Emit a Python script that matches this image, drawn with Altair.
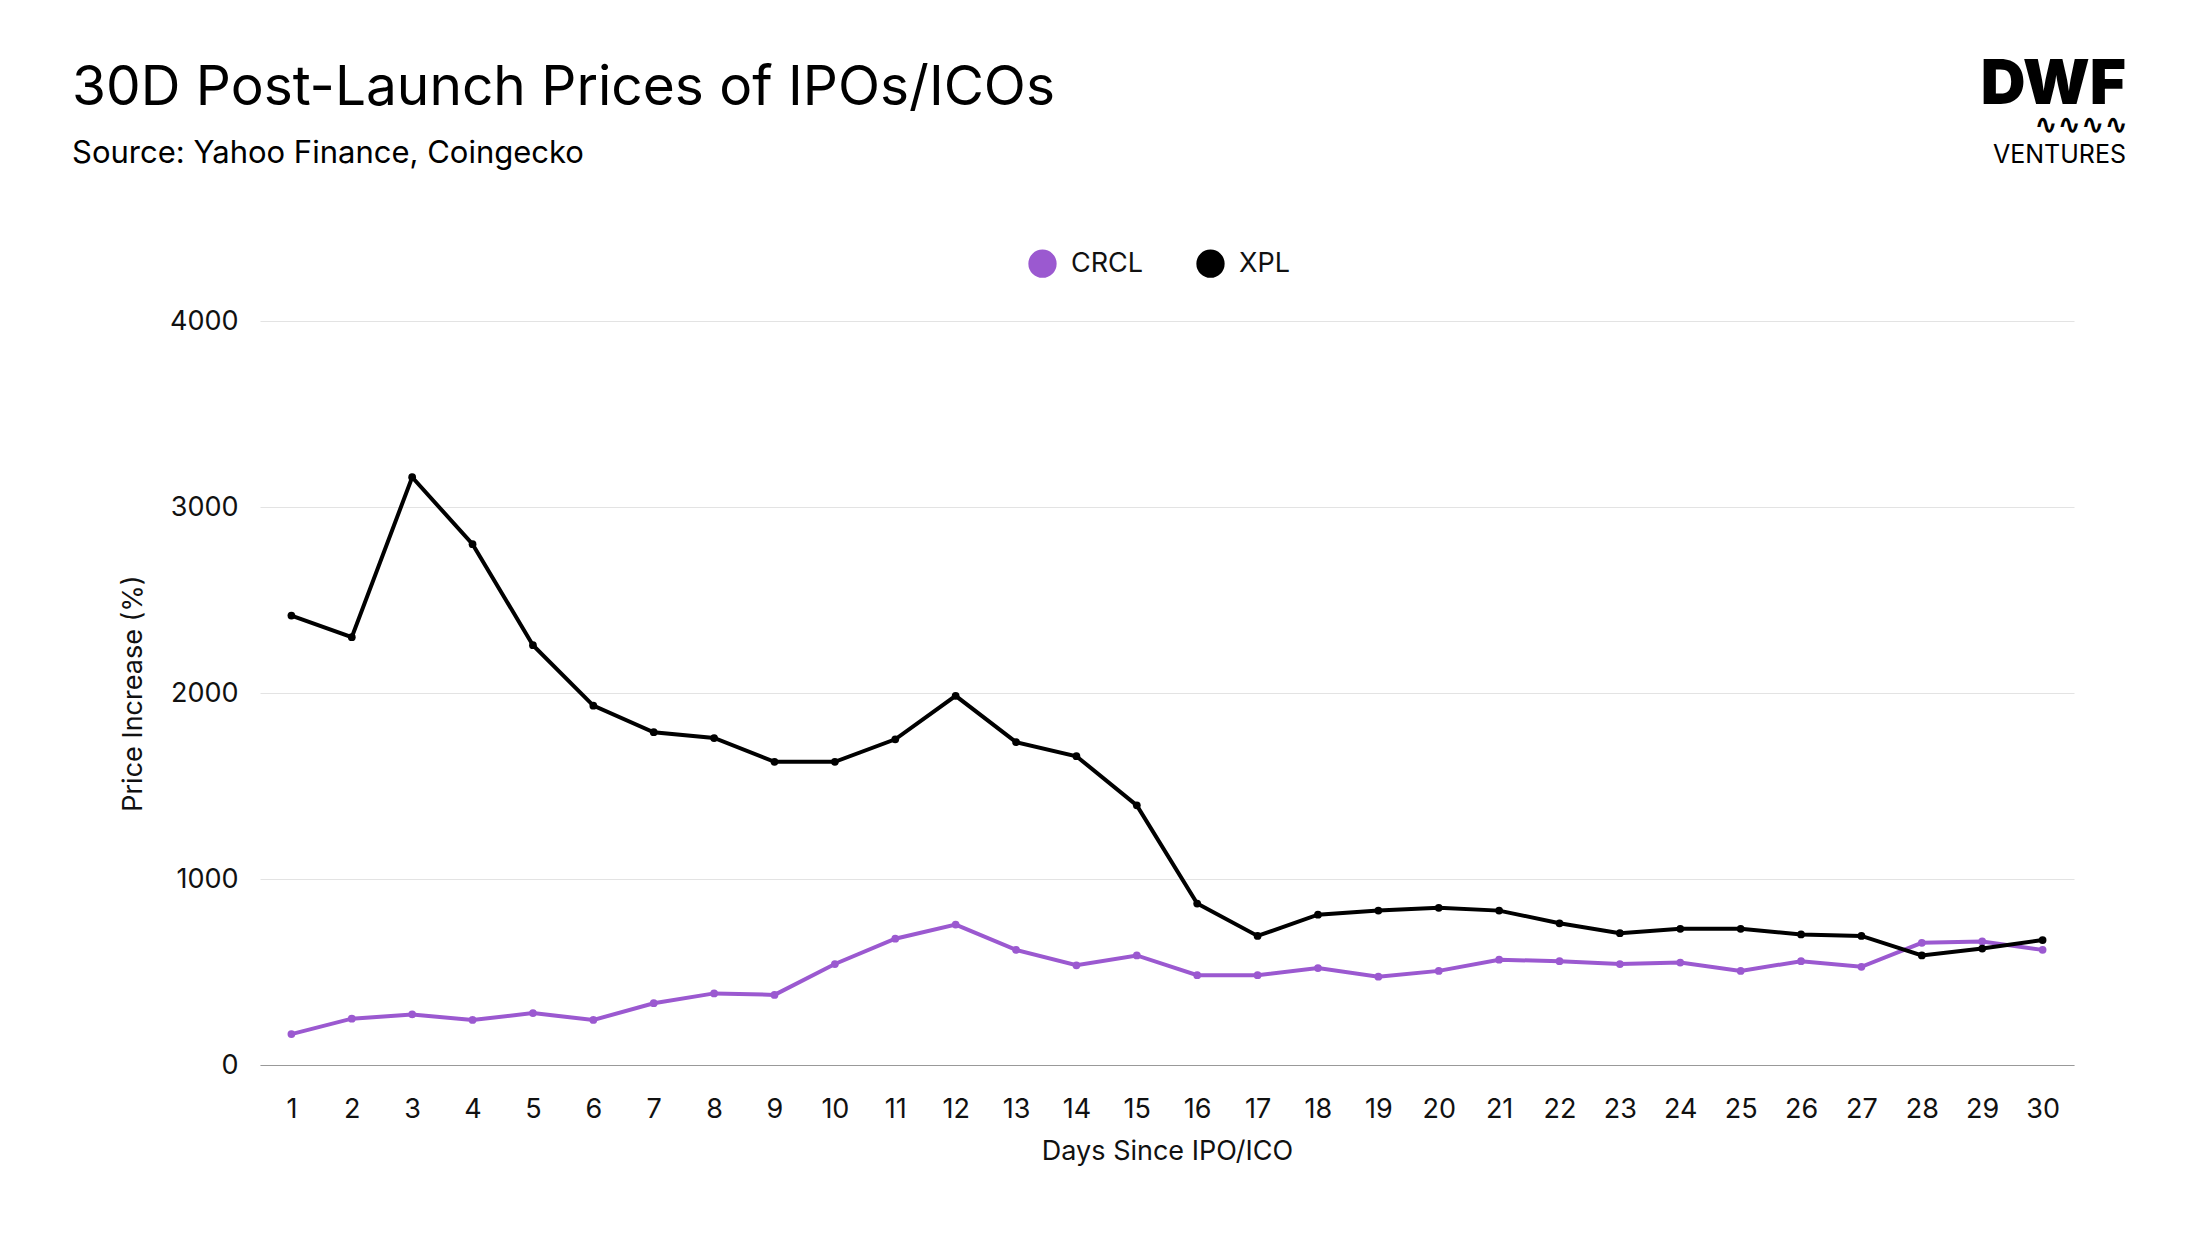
import altair as alt
import pandas as pd

days = list(range(1, 31))
crcl = [166, 249, 272, 242, 279, 242, 332, 385, 377, 543, 679, 755, 619, 536, 589,
        483, 483, 521, 475, 506, 566, 558, 543, 551, 506, 558, 528, 657, 664, 619]
xpl = [2416, 2300, 3160, 2800, 2257, 1932, 1789, 1758, 1630, 1630, 1751, 1985, 1736, 1660, 1396,
       868, 694, 808, 830, 845, 830, 762, 709, 732, 732, 702, 694, 589, 626, 672]
series = ["CRCL", "XPL"]
colors = ["#9b59d0", "#000000"]

rows = []
for d, c, x in zip(days, crcl, xpl):
    rows.append({"day": d, "series": "CRCL", "value": c})
    rows.append({"day": d, "series": "XPL", "value": x})
df = pd.DataFrame(rows)

FONT = "Inter"
W, H = 1814, 744

base = alt.Chart(df).encode(
    x=alt.X("day:O", title="Days Since IPO/ICO",
            scale=alt.Scale(type="point", padding=0.52),
            axis=alt.Axis(labelAngle=0, ticks=False, domainColor="#999999",
                          labelFontSize=27, titleFontSize=27, labelPadding=31,
                          titlePadding=16, labelColor="#111", titleColor="#111",
                          titleFontWeight="normal", grid=False)),
    y=alt.Y("value:Q", title="Price Increase (%)",
            scale=alt.Scale(domain=[0, 4000]),
            axis=alt.Axis(values=[0, 1000, 2000, 3000, 4000], format="d", domain=False, ticks=False,
                          labelFontSize=27, titleFontSize=27, labelPadding=22,
                          titlePadding=22, gridColor="#e3e3e3", labelColor="#111",
                          titleColor="#111", titleFontWeight="normal")),
    color=alt.Color("series:N", scale=alt.Scale(domain=series, range=colors),
                    legend=alt.Legend(title=None, orient="none", direction="horizontal",
                                      legendX=768, legendY=-72,
                                      symbolType="circle", symbolSize=800, labelOffset=14,
                                      labelFontSize=27, labelColor="#111",
                                      columnPadding=52, symbolStrokeWidth=0)),
)
lines = base.mark_line(strokeWidth=4)
pts = base.mark_circle(size=60, opacity=1)

dwf = alt.Chart(pd.DataFrame({"t": ["DWF"]})).mark_text(
    font=FONT, fontSize=62, fontWeight=900, align="right", baseline="alphabetic", color="#000"
).encode(text="t:N", x=alt.value(1866), y=alt.value(-217))
ven = alt.Chart(pd.DataFrame({"t": ["VENTURES"]})).mark_text(
    font=FONT, fontSize=25, align="right", baseline="alphabetic", color="#000"
).encode(text="t:N", x=alt.value(1866), y=alt.value(-158))
wave = alt.Chart(pd.DataFrame({"t": ["∿∿∿∿"]})).mark_text(
    font="DejaVu Sans", fontSize=28, fontWeight="bold", align="right", baseline="middle", color="#000"
).encode(text="t:N", x=alt.value(1868), y=alt.value(-195))

chart = alt.layer(lines, pts, dwf, ven, wave).properties(
    width=W, height=H,
    autosize=alt.AutoSizeParams(type="none"),
    padding={"left": 252, "top": 313, "right": 110, "bottom": 140},
    view=alt.ViewBackground(stroke=None, strokeWidth=0),
    title=alt.Title("30D Post-Launch Prices of IPOs/ICOs",
                    subtitle="Source: Yahoo Finance, Coingecko",
                    anchor="start", frame="group", dx=-188, dy=126, offset=10,
                    fontSize=55, subtitleFontSize=31, font=FONT, subtitleFont=FONT,
                    fontWeight="normal", color="#000", subtitleColor="#000",
                    subtitlePadding=22),
).configure_view(strokeWidth=0, stroke=None).configure(font=FONT, background="white")

chart.save("out.html", embed_options={"renderer": "svg", "actions": False})
